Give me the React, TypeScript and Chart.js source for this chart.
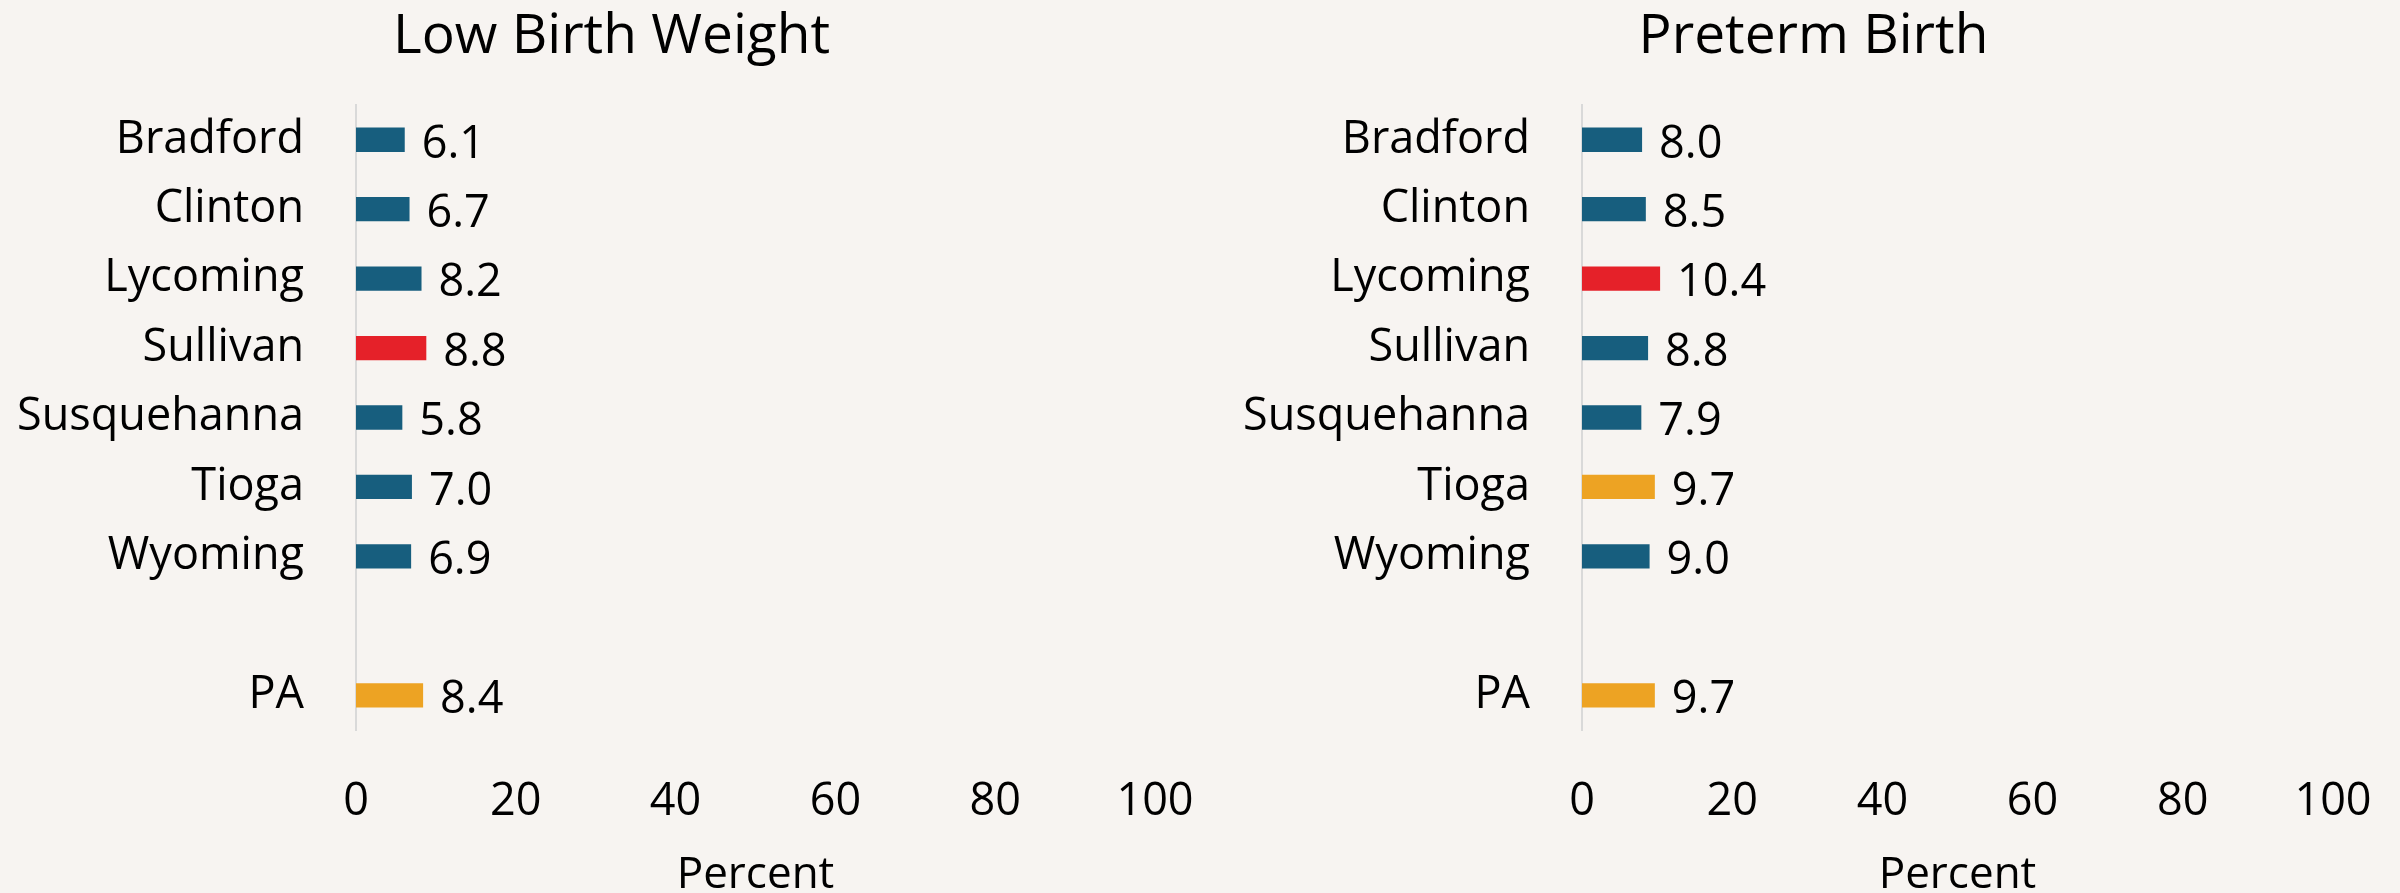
import React, { useEffect, useRef } from "react";
import { Chart, registerables } from "chart.js";

Chart.register(...registerables);

const categories: string[] = ["Bradford", "Clinton", "Lycoming", "Sullivan", "Susquehanna", "Tioga", "Wyoming", "", "PA"];
const lowBirthWeight: (number | null)[] = [6.1, 6.7, 8.2, 8.8, 5.8, 7.0, 6.9, null, 8.4];
const pretermBirth: (number | null)[] = [8.0, 8.5, 10.4, 8.8, 7.9, 9.7, 9.0, null, 9.7];
const xTicks: number[] = [0, 20, 40, 60, 80, 100];

const BLUE = "#175E7E";
const RED = "#E52129";
const ORANGE = "#EDA323";
const lowBirthWeightColors = [BLUE, BLUE, BLUE, RED, BLUE, BLUE, BLUE, BLUE, ORANGE];
const pretermBirthColors = [BLUE, BLUE, RED, BLUE, BLUE, ORANGE, BLUE, BLUE, ORANGE];

const FONT = '"Open Sans", "Liberation Sans", sans-serif';

const valueLabels = {
  id: "valueLabels",
  afterDatasetsDraw(chart: any) {
    const ctx = chart.ctx;
    chart.data.datasets.forEach((ds: any, di: number) => {
      const meta = chart.getDatasetMeta(di);
      meta.data.forEach((bar: any, i: number) => {
        const v = ds.data[i];
        if (v == null) return;
        ctx.save();
        ctx.font = `45px ${FONT}`;
        ctx.fillStyle = "#000";
        ctx.textBaseline = "middle";
        ctx.textAlign = "left";
        ctx.fillText(Number(v).toFixed(1), bar.x + 17, bar.y + 5);
        ctx.restore();
      });
    });
  },
};

// shift the chart title horizontally (the title box spans the full canvas width)
const titleShift = {
  id: "titleShift",
  afterLayout(chart: any, _args: any, opts: any) {
    const tb = chart.titleBlock;
    if (tb && opts && opts.dx) {
      tb.left += opts.dx;
      tb.right += opts.dx;
    }
  },
};

function BarPanel(props: {
  title: string;
  values: (number | null)[];
  colors: string[];
  axisWidth: number;
  padRight: number;
  titleDx: number;
}) {
  const ref = useRef<HTMLCanvasElement | null>(null);
  useEffect(() => {
    if (!ref.current) return;
    const chart = new Chart(ref.current, {
      type: "bar",
      data: {
        labels: categories,
        datasets: [
          {
            data: props.values as any,
            backgroundColor: props.colors,
            barPercentage: 0.35,
            categoryPercentage: 1,
          },
        ],
      },
      options: {
        indexAxis: "y",
        responsive: false,
        animation: false,
        devicePixelRatio: 1,
        layout: { padding: { left: 0, right: props.padRight, top: 0, bottom: 0 } },
        plugins: {
          legend: { display: false },
          tooltip: { enabled: false },
          title: {
            display: true,
            text: props.title,
            color: "#000",
            font: { family: FONT, size: 55, weight: "normal" },
            padding: { top: 4, bottom: 35 },
          },
          titleShift: { dx: props.titleDx },
        } as any,
        scales: {
          x: {
            type: "linear",
            min: 0,
            max: 100,
            afterBuildTicks: (s: any) => {
              s.ticks = xTicks.map((v) => ({ value: v }));
            },
            ticks: { color: "#000", font: { family: FONT, size: 45 }, padding: 45, maxRotation: 0 },
            grid: { display: false, drawTicks: false },
            border: { display: false },
            title: {
              display: true,
              text: "Percent",
              color: "#000",
              font: { family: FONT, size: 44, lineHeight: 0.6 },
              padding: { top: 0, bottom: 4 },
            },
            afterFit: (s: any) => {
              s.height = 163;
              s.paddingLeft = 0;
              s.paddingRight = 0;
            },
          },
          y: {
            type: "category",
            grid: { display: false, drawTicks: false },
            border: { display: true, color: "#D9D9D9", width: 2 },
            ticks: { color: "#000", font: { family: FONT, size: 45 }, padding: 52, autoSkip: false },
            afterFit: (s: any) => {
              s.width = props.axisWidth;
              s.paddingTop = 0;
              s.paddingBottom = 0;
            },
          },
        },
      },
      plugins: [valueLabels, titleShift],
    });
    return () => chart.destroy();
  }, []);
  return <canvas ref={ref} width={1200} height={893} style={{ width: 1200, height: 893, display: "block" }} />;
}

export default function App() {
  return (
    <div style={{ position: "absolute", left: 0, top: 0, width: 2400, height: 893, background: "#F7F4F1", overflow: "hidden" }}>
      <div style={{ position: "absolute", left: 0, top: 0 }}>
        <BarPanel title="Low Birth Weight" values={lowBirthWeight} colors={lowBirthWeightColors} axisWidth={356} padRight={45} titleDx={34} />
      </div>
      <div style={{ position: "absolute", left: 1200, top: 0 }}>
        <BarPanel title="Preterm Birth" values={pretermBirth} colors={pretermBirthColors} axisWidth={382} padRight={67} titleDx={47} />
      </div>
    </div>
  );
}
